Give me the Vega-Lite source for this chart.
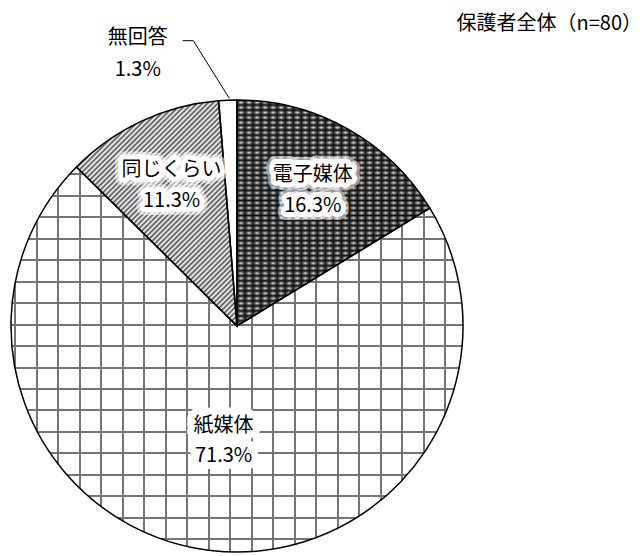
{
  "$schema": "https://vega.github.io/schema/vega-lite/v6.json",
  "width": 474,
  "height": 452,
  "autosize": {"type": "none"},
  "padding": {"left": 0, "top": 100, "right": 168, "bottom": 4},
  "background": "white",
  "config": {"view": {"stroke": null}},
  "title": {"text": "保護者全体（n=80）", "anchor": "end", "frame": "group", "font": "Noto Sans CJK JP", "fontSize": 20, "fontWeight": "normal", "color": "black", "baseline": "bottom", "offset": 0, "dy": 26, "dx": 168},
  "data": {"values": [
    {"k": "電子媒体", "v": 0.163, "order": 1},
    {"k": "紙媒体", "v": 0.713, "order": 2},
    {"k": "同じくらい", "v": 0.113, "order": 3},
    {"k": "無回答", "v": 0.013, "order": 4}
  ]},
  "layer": [
    {
      "encoding": {
        "theta": {"field": "v", "type": "quantitative", "stack": true},
        "order": {"field": "order", "type": "quantitative"}
      },
      "layer": [
        {
          "mark": {"type": "arc"},
          "encoding": {
            "fill": {
              "condition": [
                {"test": "datum.k === '電子媒体'", "value": {"gradient": "linear", "x1": 0, "y1": 0, "x2": 0, "y2": 1, "stops": [
                  {"offset": 0, "color": "#111111"}, {"offset": 0.0111, "color": "#e6e6e6"}, {"offset": 0.0222, "color": "#111111"}, {"offset": 0.0333, "color": "#e6e6e6"},
                  {"offset": 0.0444, "color": "#111111"}, {"offset": 0.0556, "color": "#e6e6e6"}, {"offset": 0.0667, "color": "#111111"}, {"offset": 0.0778, "color": "#e6e6e6"},
                  {"offset": 0.0889, "color": "#111111"}, {"offset": 0.1, "color": "#e6e6e6"}, {"offset": 0.1111, "color": "#111111"}, {"offset": 0.1222, "color": "#e6e6e6"},
                  {"offset": 0.1333, "color": "#111111"}, {"offset": 0.1444, "color": "#e6e6e6"}, {"offset": 0.1556, "color": "#111111"}, {"offset": 0.1667, "color": "#e6e6e6"},
                  {"offset": 0.1778, "color": "#111111"}, {"offset": 0.1889, "color": "#e6e6e6"}, {"offset": 0.2, "color": "#111111"}, {"offset": 0.2111, "color": "#e6e6e6"},
                  {"offset": 0.2222, "color": "#111111"}, {"offset": 0.2333, "color": "#e6e6e6"}, {"offset": 0.2444, "color": "#111111"}, {"offset": 0.2556, "color": "#e6e6e6"},
                  {"offset": 0.2667, "color": "#111111"}, {"offset": 0.2778, "color": "#e6e6e6"}, {"offset": 0.2889, "color": "#111111"}, {"offset": 0.3, "color": "#e6e6e6"},
                  {"offset": 0.3111, "color": "#111111"}, {"offset": 0.3222, "color": "#e6e6e6"}, {"offset": 0.3333, "color": "#111111"}, {"offset": 0.3444, "color": "#e6e6e6"},
                  {"offset": 0.3556, "color": "#111111"}, {"offset": 0.3667, "color": "#e6e6e6"}, {"offset": 0.3778, "color": "#111111"}, {"offset": 0.3889, "color": "#e6e6e6"},
                  {"offset": 0.4, "color": "#111111"}, {"offset": 0.4111, "color": "#e6e6e6"}, {"offset": 0.4222, "color": "#111111"}, {"offset": 0.4333, "color": "#e6e6e6"},
                  {"offset": 0.4444, "color": "#111111"}, {"offset": 0.4556, "color": "#e6e6e6"}, {"offset": 0.4667, "color": "#111111"}, {"offset": 0.4778, "color": "#e6e6e6"},
                  {"offset": 0.4889, "color": "#111111"}, {"offset": 0.5, "color": "#e6e6e6"}, {"offset": 0.5111, "color": "#111111"}, {"offset": 0.5222, "color": "#e6e6e6"},
                  {"offset": 0.5333, "color": "#111111"}, {"offset": 0.5444, "color": "#e6e6e6"}, {"offset": 0.5556, "color": "#111111"}, {"offset": 0.5667, "color": "#e6e6e6"},
                  {"offset": 0.5778, "color": "#111111"}, {"offset": 0.5889, "color": "#e6e6e6"}, {"offset": 0.6, "color": "#111111"}, {"offset": 0.6111, "color": "#e6e6e6"},
                  {"offset": 0.6222, "color": "#111111"}, {"offset": 0.6333, "color": "#e6e6e6"}, {"offset": 0.6444, "color": "#111111"}, {"offset": 0.6556, "color": "#e6e6e6"},
                  {"offset": 0.6667, "color": "#111111"}, {"offset": 0.6778, "color": "#e6e6e6"}, {"offset": 0.6889, "color": "#111111"}, {"offset": 0.7, "color": "#e6e6e6"},
                  {"offset": 0.7111, "color": "#111111"}, {"offset": 0.7222, "color": "#e6e6e6"}, {"offset": 0.7333, "color": "#111111"}, {"offset": 0.7444, "color": "#e6e6e6"},
                  {"offset": 0.7556, "color": "#111111"}, {"offset": 0.7667, "color": "#e6e6e6"}, {"offset": 0.7778, "color": "#111111"}, {"offset": 0.7889, "color": "#e6e6e6"},
                  {"offset": 0.8, "color": "#111111"}, {"offset": 0.8111, "color": "#e6e6e6"}, {"offset": 0.8222, "color": "#111111"}, {"offset": 0.8333, "color": "#e6e6e6"},
                  {"offset": 0.8444, "color": "#111111"}, {"offset": 0.8556, "color": "#e6e6e6"}, {"offset": 0.8667, "color": "#111111"}, {"offset": 0.8778, "color": "#e6e6e6"},
                  {"offset": 0.8889, "color": "#111111"}, {"offset": 0.9, "color": "#e6e6e6"}, {"offset": 0.9111, "color": "#111111"}, {"offset": 0.9222, "color": "#e6e6e6"},
                  {"offset": 0.9333, "color": "#111111"}, {"offset": 0.9444, "color": "#e6e6e6"}, {"offset": 0.9556, "color": "#111111"}, {"offset": 0.9667, "color": "#e6e6e6"},
                  {"offset": 0.9778, "color": "#111111"}, {"offset": 0.9889, "color": "#e6e6e6"}, {"offset": 1, "color": "#111111"}
                ]}},
                {"test": "datum.k === '紙媒体'", "value": {"gradient": "linear", "x1": 0, "y1": 0, "x2": 1, "y2": 0, "stops": [
                  {"offset": 0.0071, "color": "#ffffff"}, {"offset": 0.0071, "color": "#757575"}, {"offset": 0.0115, "color": "#757575"}, {"offset": 0.0115, "color": "#ffffff"},
                  {"offset": 0.0547, "color": "#ffffff"}, {"offset": 0.0547, "color": "#757575"}, {"offset": 0.0591, "color": "#757575"}, {"offset": 0.0591, "color": "#ffffff"},
                  {"offset": 0.1023, "color": "#ffffff"}, {"offset": 0.1023, "color": "#757575"}, {"offset": 0.1067, "color": "#757575"}, {"offset": 0.1067, "color": "#ffffff"},
                  {"offset": 0.1498, "color": "#ffffff"}, {"offset": 0.1498, "color": "#757575"}, {"offset": 0.1542, "color": "#757575"}, {"offset": 0.1542, "color": "#ffffff"},
                  {"offset": 0.1974, "color": "#ffffff"}, {"offset": 0.1974, "color": "#757575"}, {"offset": 0.2018, "color": "#757575"}, {"offset": 0.2018, "color": "#ffffff"},
                  {"offset": 0.2450, "color": "#ffffff"}, {"offset": 0.2450, "color": "#757575"}, {"offset": 0.2494, "color": "#757575"}, {"offset": 0.2494, "color": "#ffffff"},
                  {"offset": 0.2926, "color": "#ffffff"}, {"offset": 0.2926, "color": "#757575"}, {"offset": 0.2970, "color": "#757575"}, {"offset": 0.2970, "color": "#ffffff"},
                  {"offset": 0.3401, "color": "#ffffff"}, {"offset": 0.3401, "color": "#757575"}, {"offset": 0.3445, "color": "#757575"}, {"offset": 0.3445, "color": "#ffffff"},
                  {"offset": 0.3877, "color": "#ffffff"}, {"offset": 0.3877, "color": "#757575"}, {"offset": 0.3921, "color": "#757575"}, {"offset": 0.3921, "color": "#ffffff"},
                  {"offset": 0.4353, "color": "#ffffff"}, {"offset": 0.4353, "color": "#757575"}, {"offset": 0.4397, "color": "#757575"}, {"offset": 0.4397, "color": "#ffffff"},
                  {"offset": 0.4828, "color": "#ffffff"}, {"offset": 0.4828, "color": "#757575"}, {"offset": 0.4872, "color": "#757575"}, {"offset": 0.4872, "color": "#ffffff"},
                  {"offset": 0.5304, "color": "#ffffff"}, {"offset": 0.5304, "color": "#757575"}, {"offset": 0.5348, "color": "#757575"}, {"offset": 0.5348, "color": "#ffffff"},
                  {"offset": 0.5780, "color": "#ffffff"}, {"offset": 0.5780, "color": "#757575"}, {"offset": 0.5824, "color": "#757575"}, {"offset": 0.5824, "color": "#ffffff"},
                  {"offset": 0.6255, "color": "#ffffff"}, {"offset": 0.6255, "color": "#757575"}, {"offset": 0.6299, "color": "#757575"}, {"offset": 0.6299, "color": "#ffffff"},
                  {"offset": 0.6731, "color": "#ffffff"}, {"offset": 0.6731, "color": "#757575"}, {"offset": 0.6775, "color": "#757575"}, {"offset": 0.6775, "color": "#ffffff"},
                  {"offset": 0.7207, "color": "#ffffff"}, {"offset": 0.7207, "color": "#757575"}, {"offset": 0.7251, "color": "#757575"}, {"offset": 0.7251, "color": "#ffffff"},
                  {"offset": 0.7683, "color": "#ffffff"}, {"offset": 0.7683, "color": "#757575"}, {"offset": 0.7727, "color": "#757575"}, {"offset": 0.7727, "color": "#ffffff"},
                  {"offset": 0.8158, "color": "#ffffff"}, {"offset": 0.8158, "color": "#757575"}, {"offset": 0.8202, "color": "#757575"}, {"offset": 0.8202, "color": "#ffffff"},
                  {"offset": 0.8634, "color": "#ffffff"}, {"offset": 0.8634, "color": "#757575"}, {"offset": 0.8678, "color": "#757575"}, {"offset": 0.8678, "color": "#ffffff"},
                  {"offset": 0.9110, "color": "#ffffff"}, {"offset": 0.9110, "color": "#757575"}, {"offset": 0.9154, "color": "#757575"}, {"offset": 0.9154, "color": "#ffffff"},
                  {"offset": 0.9585, "color": "#ffffff"}, {"offset": 0.9585, "color": "#757575"}, {"offset": 0.9629, "color": "#757575"}, {"offset": 0.9629, "color": "#ffffff"}
                ]}},
                {"test": "datum.k === '同じくらい'", "value": {"gradient": "linear", "x1": 0, "y1": 0, "x2": 0.81, "y2": 1.1355, "stops": [
                  {"offset": 0, "color": "#505050"}, {"offset": 0.0067, "color": "#ffffff"}, {"offset": 0.0133, "color": "#505050"}, {"offset": 0.02, "color": "#ffffff"},
                  {"offset": 0.0267, "color": "#505050"}, {"offset": 0.0333, "color": "#ffffff"}, {"offset": 0.04, "color": "#505050"}, {"offset": 0.0467, "color": "#ffffff"},
                  {"offset": 0.0533, "color": "#505050"}, {"offset": 0.06, "color": "#ffffff"}, {"offset": 0.0667, "color": "#505050"}, {"offset": 0.0733, "color": "#ffffff"},
                  {"offset": 0.08, "color": "#505050"}, {"offset": 0.0867, "color": "#ffffff"}, {"offset": 0.0933, "color": "#505050"}, {"offset": 0.1, "color": "#ffffff"},
                  {"offset": 0.1067, "color": "#505050"}, {"offset": 0.1133, "color": "#ffffff"}, {"offset": 0.12, "color": "#505050"}, {"offset": 0.1267, "color": "#ffffff"},
                  {"offset": 0.1333, "color": "#505050"}, {"offset": 0.14, "color": "#ffffff"}, {"offset": 0.1467, "color": "#505050"}, {"offset": 0.1533, "color": "#ffffff"},
                  {"offset": 0.16, "color": "#505050"}, {"offset": 0.1667, "color": "#ffffff"}, {"offset": 0.1733, "color": "#505050"}, {"offset": 0.18, "color": "#ffffff"},
                  {"offset": 0.1867, "color": "#505050"}, {"offset": 0.1933, "color": "#ffffff"}, {"offset": 0.2, "color": "#505050"}, {"offset": 0.2067, "color": "#ffffff"},
                  {"offset": 0.2133, "color": "#505050"}, {"offset": 0.22, "color": "#ffffff"}, {"offset": 0.2267, "color": "#505050"}, {"offset": 0.2333, "color": "#ffffff"},
                  {"offset": 0.24, "color": "#505050"}, {"offset": 0.2467, "color": "#ffffff"}, {"offset": 0.2533, "color": "#505050"}, {"offset": 0.26, "color": "#ffffff"},
                  {"offset": 0.2667, "color": "#505050"}, {"offset": 0.2733, "color": "#ffffff"}, {"offset": 0.28, "color": "#505050"}, {"offset": 0.2867, "color": "#ffffff"},
                  {"offset": 0.2933, "color": "#505050"}, {"offset": 0.3, "color": "#ffffff"}, {"offset": 0.3067, "color": "#505050"}, {"offset": 0.3133, "color": "#ffffff"},
                  {"offset": 0.32, "color": "#505050"}, {"offset": 0.3267, "color": "#ffffff"}, {"offset": 0.3333, "color": "#505050"}, {"offset": 0.34, "color": "#ffffff"},
                  {"offset": 0.3467, "color": "#505050"}, {"offset": 0.3533, "color": "#ffffff"}, {"offset": 0.36, "color": "#505050"}, {"offset": 0.3667, "color": "#ffffff"},
                  {"offset": 0.3733, "color": "#505050"}, {"offset": 0.38, "color": "#ffffff"}, {"offset": 0.3867, "color": "#505050"}, {"offset": 0.3933, "color": "#ffffff"},
                  {"offset": 0.4, "color": "#505050"}, {"offset": 0.4067, "color": "#ffffff"}, {"offset": 0.4133, "color": "#505050"}, {"offset": 0.42, "color": "#ffffff"},
                  {"offset": 0.4267, "color": "#505050"}, {"offset": 0.4333, "color": "#ffffff"}, {"offset": 0.44, "color": "#505050"}, {"offset": 0.4467, "color": "#ffffff"},
                  {"offset": 0.4533, "color": "#505050"}, {"offset": 0.46, "color": "#ffffff"}, {"offset": 0.4667, "color": "#505050"}, {"offset": 0.4733, "color": "#ffffff"},
                  {"offset": 0.48, "color": "#505050"}, {"offset": 0.4867, "color": "#ffffff"}, {"offset": 0.4933, "color": "#505050"}, {"offset": 0.5, "color": "#ffffff"},
                  {"offset": 0.5067, "color": "#505050"}, {"offset": 0.5133, "color": "#ffffff"}, {"offset": 0.52, "color": "#505050"}, {"offset": 0.5267, "color": "#ffffff"},
                  {"offset": 0.5333, "color": "#505050"}, {"offset": 0.54, "color": "#ffffff"}, {"offset": 0.5467, "color": "#505050"}, {"offset": 0.5533, "color": "#ffffff"},
                  {"offset": 0.56, "color": "#505050"}, {"offset": 0.5667, "color": "#ffffff"}, {"offset": 0.5733, "color": "#505050"}, {"offset": 0.58, "color": "#ffffff"},
                  {"offset": 0.5867, "color": "#505050"}, {"offset": 0.5933, "color": "#ffffff"}, {"offset": 0.6, "color": "#505050"}, {"offset": 0.6067, "color": "#ffffff"},
                  {"offset": 0.6133, "color": "#505050"}, {"offset": 0.62, "color": "#ffffff"}, {"offset": 0.6267, "color": "#505050"}, {"offset": 0.6333, "color": "#ffffff"},
                  {"offset": 0.64, "color": "#505050"}, {"offset": 0.6467, "color": "#ffffff"}, {"offset": 0.6533, "color": "#505050"}, {"offset": 0.66, "color": "#ffffff"},
                  {"offset": 0.6667, "color": "#505050"}, {"offset": 0.6733, "color": "#ffffff"}, {"offset": 0.68, "color": "#505050"}, {"offset": 0.6867, "color": "#ffffff"},
                  {"offset": 0.6933, "color": "#505050"}, {"offset": 0.7, "color": "#ffffff"}, {"offset": 0.7067, "color": "#505050"}, {"offset": 0.7133, "color": "#ffffff"},
                  {"offset": 0.72, "color": "#505050"}, {"offset": 0.7267, "color": "#ffffff"}, {"offset": 0.7333, "color": "#505050"}, {"offset": 0.74, "color": "#ffffff"},
                  {"offset": 0.7467, "color": "#505050"}, {"offset": 0.7533, "color": "#ffffff"}, {"offset": 0.76, "color": "#505050"}, {"offset": 0.7667, "color": "#ffffff"},
                  {"offset": 0.7733, "color": "#505050"}, {"offset": 0.78, "color": "#ffffff"}, {"offset": 0.7867, "color": "#505050"}, {"offset": 0.7933, "color": "#ffffff"},
                  {"offset": 0.8, "color": "#505050"}, {"offset": 0.8067, "color": "#ffffff"}, {"offset": 0.8133, "color": "#505050"}, {"offset": 0.82, "color": "#ffffff"},
                  {"offset": 0.8267, "color": "#505050"}, {"offset": 0.8333, "color": "#ffffff"}, {"offset": 0.84, "color": "#505050"}, {"offset": 0.8467, "color": "#ffffff"},
                  {"offset": 0.8533, "color": "#505050"}, {"offset": 0.86, "color": "#ffffff"}, {"offset": 0.8667, "color": "#505050"}, {"offset": 0.8733, "color": "#ffffff"},
                  {"offset": 0.88, "color": "#505050"}, {"offset": 0.8867, "color": "#ffffff"}, {"offset": 0.8933, "color": "#505050"}, {"offset": 0.9, "color": "#ffffff"},
                  {"offset": 0.9067, "color": "#505050"}, {"offset": 0.9133, "color": "#ffffff"}, {"offset": 0.92, "color": "#505050"}, {"offset": 0.9267, "color": "#ffffff"},
                  {"offset": 0.9333, "color": "#505050"}, {"offset": 0.94, "color": "#ffffff"}, {"offset": 0.9467, "color": "#505050"}, {"offset": 0.9533, "color": "#ffffff"},
                  {"offset": 0.96, "color": "#505050"}, {"offset": 0.9667, "color": "#ffffff"}, {"offset": 0.9733, "color": "#505050"}, {"offset": 0.98, "color": "#ffffff"},
                  {"offset": 0.9867, "color": "#505050"}, {"offset": 0.9933, "color": "#ffffff"}, {"offset": 1, "color": "#505050"}
                ]}}
              ],
              "value": "white"
            }
          }
        },
        {
          "mark": {"type": "arc", "stroke": "black", "strokeWidth": 1.5},
          "encoding": {
            "fill": {
              "condition": [
                {"test": "datum.k === '電子媒体'", "value": {"gradient": "linear", "x1": 0, "y1": 0, "x2": 1, "y2": 0, "stops": [
                  {"offset": 0, "color": "rgba(17,17,17,0.95)"}, {"offset": 0.0208, "color": "rgba(17,17,17,0)"}, {"offset": 0.0417, "color": "rgba(17,17,17,0.95)"}, {"offset": 0.0625, "color": "rgba(17,17,17,0)"},
                  {"offset": 0.0833, "color": "rgba(17,17,17,0.95)"}, {"offset": 0.1042, "color": "rgba(17,17,17,0)"}, {"offset": 0.125, "color": "rgba(17,17,17,0.95)"}, {"offset": 0.1458, "color": "rgba(17,17,17,0)"},
                  {"offset": 0.1667, "color": "rgba(17,17,17,0.95)"}, {"offset": 0.1875, "color": "rgba(17,17,17,0)"}, {"offset": 0.2083, "color": "rgba(17,17,17,0.95)"}, {"offset": 0.2292, "color": "rgba(17,17,17,0)"},
                  {"offset": 0.25, "color": "rgba(17,17,17,0.95)"}, {"offset": 0.2708, "color": "rgba(17,17,17,0)"}, {"offset": 0.2917, "color": "rgba(17,17,17,0.95)"}, {"offset": 0.3125, "color": "rgba(17,17,17,0)"},
                  {"offset": 0.3333, "color": "rgba(17,17,17,0.95)"}, {"offset": 0.3542, "color": "rgba(17,17,17,0)"}, {"offset": 0.375, "color": "rgba(17,17,17,0.95)"}, {"offset": 0.3958, "color": "rgba(17,17,17,0)"},
                  {"offset": 0.4167, "color": "rgba(17,17,17,0.95)"}, {"offset": 0.4375, "color": "rgba(17,17,17,0)"}, {"offset": 0.4583, "color": "rgba(17,17,17,0.95)"}, {"offset": 0.4792, "color": "rgba(17,17,17,0)"},
                  {"offset": 0.5, "color": "rgba(17,17,17,0.95)"}, {"offset": 0.5208, "color": "rgba(17,17,17,0)"}, {"offset": 0.5417, "color": "rgba(17,17,17,0.95)"}, {"offset": 0.5625, "color": "rgba(17,17,17,0)"},
                  {"offset": 0.5833, "color": "rgba(17,17,17,0.95)"}, {"offset": 0.6042, "color": "rgba(17,17,17,0)"}, {"offset": 0.625, "color": "rgba(17,17,17,0.95)"}, {"offset": 0.6458, "color": "rgba(17,17,17,0)"},
                  {"offset": 0.6667, "color": "rgba(17,17,17,0.95)"}, {"offset": 0.6875, "color": "rgba(17,17,17,0)"}, {"offset": 0.7083, "color": "rgba(17,17,17,0.95)"}, {"offset": 0.7292, "color": "rgba(17,17,17,0)"},
                  {"offset": 0.75, "color": "rgba(17,17,17,0.95)"}, {"offset": 0.7708, "color": "rgba(17,17,17,0)"}, {"offset": 0.7917, "color": "rgba(17,17,17,0.95)"}, {"offset": 0.8125, "color": "rgba(17,17,17,0)"},
                  {"offset": 0.8333, "color": "rgba(17,17,17,0.95)"}, {"offset": 0.8542, "color": "rgba(17,17,17,0)"}, {"offset": 0.875, "color": "rgba(17,17,17,0.95)"}, {"offset": 0.8958, "color": "rgba(17,17,17,0)"},
                  {"offset": 0.9167, "color": "rgba(17,17,17,0.95)"}, {"offset": 0.9375, "color": "rgba(17,17,17,0)"}, {"offset": 0.9583, "color": "rgba(17,17,17,0.95)"}, {"offset": 0.9792, "color": "rgba(17,17,17,0)"},
                  {"offset": 1, "color": "rgba(17,17,17,0.95)"}
                ]}},
                {"test": "datum.k === '紙媒体'", "value": {"gradient": "linear", "x1": 0, "y1": 0, "x2": 0, "y2": 1, "stops": [
                  {"offset": 0.0160, "color": "rgba(117,117,117,0)"}, {"offset": 0.0160, "color": "#757575"}, {"offset": 0.0212, "color": "#757575"}, {"offset": 0.0212, "color": "rgba(117,117,117,0)"},
                  {"offset": 0.0718, "color": "rgba(117,117,117,0)"}, {"offset": 0.0718, "color": "#757575"}, {"offset": 0.0770, "color": "#757575"}, {"offset": 0.0770, "color": "rgba(117,117,117,0)"},
                  {"offset": 0.1276, "color": "rgba(117,117,117,0)"}, {"offset": 0.1276, "color": "#757575"}, {"offset": 0.1328, "color": "#757575"}, {"offset": 0.1328, "color": "rgba(117,117,117,0)"},
                  {"offset": 0.1834, "color": "rgba(117,117,117,0)"}, {"offset": 0.1834, "color": "#757575"}, {"offset": 0.1886, "color": "#757575"}, {"offset": 0.1886, "color": "rgba(117,117,117,0)"},
                  {"offset": 0.2392, "color": "rgba(117,117,117,0)"}, {"offset": 0.2392, "color": "#757575"}, {"offset": 0.2444, "color": "#757575"}, {"offset": 0.2444, "color": "rgba(117,117,117,0)"},
                  {"offset": 0.2951, "color": "rgba(117,117,117,0)"}, {"offset": 0.2951, "color": "#757575"}, {"offset": 0.3003, "color": "#757575"}, {"offset": 0.3003, "color": "rgba(117,117,117,0)"},
                  {"offset": 0.3509, "color": "rgba(117,117,117,0)"}, {"offset": 0.3509, "color": "#757575"}, {"offset": 0.3561, "color": "#757575"}, {"offset": 0.3561, "color": "rgba(117,117,117,0)"},
                  {"offset": 0.4067, "color": "rgba(117,117,117,0)"}, {"offset": 0.4067, "color": "#757575"}, {"offset": 0.4119, "color": "#757575"}, {"offset": 0.4119, "color": "rgba(117,117,117,0)"},
                  {"offset": 0.4625, "color": "rgba(117,117,117,0)"}, {"offset": 0.4625, "color": "#757575"}, {"offset": 0.4677, "color": "#757575"}, {"offset": 0.4677, "color": "rgba(117,117,117,0)"},
                  {"offset": 0.5183, "color": "rgba(117,117,117,0)"}, {"offset": 0.5183, "color": "#757575"}, {"offset": 0.5235, "color": "#757575"}, {"offset": 0.5235, "color": "rgba(117,117,117,0)"},
                  {"offset": 0.5741, "color": "rgba(117,117,117,0)"}, {"offset": 0.5741, "color": "#757575"}, {"offset": 0.5793, "color": "#757575"}, {"offset": 0.5793, "color": "rgba(117,117,117,0)"},
                  {"offset": 0.6299, "color": "rgba(117,117,117,0)"}, {"offset": 0.6299, "color": "#757575"}, {"offset": 0.6351, "color": "#757575"}, {"offset": 0.6351, "color": "rgba(117,117,117,0)"},
                  {"offset": 0.6857, "color": "rgba(117,117,117,0)"}, {"offset": 0.6857, "color": "#757575"}, {"offset": 0.6909, "color": "#757575"}, {"offset": 0.6909, "color": "rgba(117,117,117,0)"},
                  {"offset": 0.7415, "color": "rgba(117,117,117,0)"}, {"offset": 0.7415, "color": "#757575"}, {"offset": 0.7467, "color": "#757575"}, {"offset": 0.7467, "color": "rgba(117,117,117,0)"},
                  {"offset": 0.7973, "color": "rgba(117,117,117,0)"}, {"offset": 0.7973, "color": "#757575"}, {"offset": 0.8025, "color": "#757575"}, {"offset": 0.8025, "color": "rgba(117,117,117,0)"},
                  {"offset": 0.8532, "color": "rgba(117,117,117,0)"}, {"offset": 0.8532, "color": "#757575"}, {"offset": 0.8584, "color": "#757575"}, {"offset": 0.8584, "color": "rgba(117,117,117,0)"},
                  {"offset": 0.9090, "color": "rgba(117,117,117,0)"}, {"offset": 0.9090, "color": "#757575"}, {"offset": 0.9142, "color": "#757575"}, {"offset": 0.9142, "color": "rgba(117,117,117,0)"},
                  {"offset": 0.9648, "color": "rgba(117,117,117,0)"}, {"offset": 0.9648, "color": "#757575"}, {"offset": 0.9700, "color": "#757575"}, {"offset": 0.9700, "color": "rgba(117,117,117,0)"}
                ]}}
              ],
              "value": "rgba(0,0,0,0)"
            }
          }
        },
        {
          "mark": {"type": "text", "radius": 155, "dy": -15.5, "font": "Noto Sans CJK JP", "fontSize": 20, "fill": "white", "stroke": "white", "strokeWidth": 16, "strokeOpacity": 0.55, "strokeJoin": "round", "baseline": "middle"},
          "encoding": {"text": {"condition": {"test": "datum.k === '電子媒体' || datum.k === '同じくらい'", "field": "k"}, "value": ""}}
        },
        {
          "mark": {"type": "text", "radius": 155, "dy": 15.5, "font": "Noto Sans CJK JP", "fontSize": 20, "fill": "white", "stroke": "white", "strokeWidth": 16, "strokeOpacity": 0.55, "strokeJoin": "round", "baseline": "middle"},
          "encoding": {"text": {"condition": {"test": "datum.k === '電子媒体' || datum.k === '同じくらい'", "field": "v", "type": "quantitative", "format": ".1%"}, "value": ""}}
        },
        {
          "mark": {"type": "text", "radius": 155, "dy": -15.5, "font": "Noto Sans CJK JP", "fontSize": 20, "fill": "white", "stroke": "white", "strokeWidth": 10, "strokeJoin": "round", "baseline": "middle"},
          "encoding": {"text": {"condition": {"test": "datum.k === '電子媒体' || datum.k === '同じくらい'", "field": "k"}, "value": ""}}
        },
        {
          "mark": {"type": "text", "radius": 155, "dy": 15.5, "font": "Noto Sans CJK JP", "fontSize": 20, "fill": "white", "stroke": "white", "strokeWidth": 10, "strokeJoin": "round", "baseline": "middle"},
          "encoding": {"text": {"condition": {"test": "datum.k === '電子媒体' || datum.k === '同じくらい'", "field": "v", "type": "quantitative", "format": ".1%"}, "value": ""}}
        },
        {
          "mark": {"type": "text", "radius": 155, "dy": -15.5, "font": "Noto Sans CJK JP", "fontSize": 20, "fill": "black", "baseline": "middle"},
          "encoding": {"text": {"condition": {"test": "datum.k === '電子媒体' || datum.k === '同じくらい'", "field": "k"}, "value": ""}}
        },
        {
          "mark": {"type": "text", "radius": 155, "dy": 15.5, "font": "Noto Sans CJK JP", "fontSize": 20, "fill": "black", "baseline": "middle"},
          "encoding": {"text": {"condition": {"test": "datum.k === '電子媒体' || datum.k === '同じくらい'", "field": "v", "type": "quantitative", "format": ".1%"}, "value": ""}}
        },
        {
          "mark": {"type": "text", "radius": 116, "dy": -15, "font": "Noto Sans CJK JP", "fontSize": 20, "fill": "white", "stroke": "white", "strokeWidth": 14, "strokeJoin": "round", "baseline": "middle"},
          "encoding": {"text": {"condition": {"test": "datum.k === '紙媒体'", "field": "k"}, "value": ""}}
        },
        {
          "mark": {"type": "text", "radius": 116, "dy": 15, "font": "Noto Sans CJK JP", "fontSize": 20, "fill": "white", "stroke": "white", "strokeWidth": 14, "strokeJoin": "round", "baseline": "middle"},
          "encoding": {"text": {"condition": {"test": "datum.k === '紙媒体'", "field": "v", "type": "quantitative", "format": ".1%"}, "value": ""}}
        },
        {
          "mark": {"type": "text", "radius": 116, "dy": -15, "font": "Noto Sans CJK JP", "fontSize": 20, "fill": "black", "baseline": "middle"},
          "encoding": {"text": {"condition": {"test": "datum.k === '紙媒体'", "field": "k"}, "value": ""}}
        },
        {
          "mark": {"type": "text", "radius": 116, "dy": 15, "font": "Noto Sans CJK JP", "fontSize": 20, "fill": "black", "baseline": "middle"},
          "encoding": {"text": {"condition": {"test": "datum.k === '紙媒体'", "field": "v", "type": "quantitative", "format": ".1%"}, "value": ""}}
        },
        {
          "mark": {"type": "text", "radius": 226, "dx": -90, "dy": -62, "font": "Noto Sans CJK JP", "fontSize": 20, "fill": "black", "baseline": "middle"},
          "encoding": {"text": {"condition": {"test": "datum.k === '無回答'", "field": "k"}, "value": ""}}
        },
        {
          "mark": {"type": "text", "radius": 226, "dx": -90, "dy": -30, "font": "Noto Sans CJK JP", "fontSize": 20, "fill": "black", "baseline": "middle"},
          "encoding": {"text": {"condition": {"test": "datum.k === '無回答'", "field": "v", "type": "quantitative", "format": ".1%"}, "value": ""}}
        }
      ]
    },
    {
      "data": {"values": [
        {"lx": -0.2403, "ly": 1.2624, "s": 1},
        {"lx": -0.1934, "ly": 1.2624, "s": 2},
        {"lx": -0.0341, "ly": 1.0075, "s": 3}
      ]},
      "mark": {"type": "line", "color": "black", "strokeWidth": 1},
      "encoding": {
        "x": {"field": "lx", "type": "quantitative", "scale": {"domain": [-1.0487, 1.0487], "nice": false, "zero": false}, "axis": null},
        "y": {"field": "ly", "type": "quantitative", "scale": {"domain": [-1, 1], "nice": false, "zero": false}, "axis": null},
        "order": {"field": "s", "type": "quantitative"}
      }
    }
  ]
}
